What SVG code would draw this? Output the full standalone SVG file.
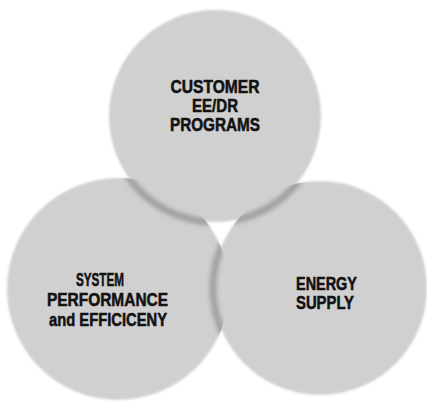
<svg xmlns="http://www.w3.org/2000/svg" width="427" height="402" viewBox="0 0 427 402">
  <style>
    .disc { fill: #d0d0d0; filter: url(#soft); }
    .rim { fill: none; stroke: #a0a0a0; stroke-width: 7; filter: url(#blur); }
    .label { font-family: "Liberation Sans", Arial, Helvetica, sans-serif; font-weight: bold; font-size: 18.5px; fill: #121212; stroke: #121212; stroke-width: 0.55; text-anchor: middle; }
  </style>
  <defs>
    <filter id="soft" x="-5%" y="-5%" width="110%" height="110%">
      <feGaussianBlur stdDeviation="1.2"/>
    </filter>
    <filter id="blur" x="-20%" y="-20%" width="140%" height="140%">
      <feGaussianBlur stdDeviation="2.2"/>
    </filter>
    <!-- area covered by the two lower discs -->
    <clipPath id="lowerDiscs">
      <circle cx="118" cy="289" r="111"/>
      <circle cx="320" cy="288" r="107"/>
    </clipPath>
    <clipPath id="leftDisc">
      <circle cx="118" cy="289" r="111"/>
    </clipPath>
  </defs>

  <!-- discs -->
  <g id="customer-programs">
    <circle class="disc" cx="215" cy="116" r="106"/>
  </g>
  <g id="system-performance">
    <circle class="disc" cx="118" cy="289" r="111"/>
  </g>
  <g id="energy-supply">
    <circle class="disc" cx="320" cy="288" r="107"/>
  </g>

  <!-- darker rims where the discs overlap -->
  <g id="overlaps">
    <circle class="rim" cx="215" cy="116" r="106" clip-path="url(#lowerDiscs)"/>
    <circle class="rim" cx="320" cy="288" r="107" clip-path="url(#leftDisc)"/>
  </g>

  <!-- labels -->
  <g id="labels">
    <text class="label" x="215" y="93" textLength="89" lengthAdjust="spacingAndGlyphs">CUSTOMER</text>
    <text class="label" x="215" y="112" textLength="46" lengthAdjust="spacingAndGlyphs">EE/DR</text>
    <text class="label" x="215" y="130.5" textLength="90" lengthAdjust="spacingAndGlyphs">PROGRAMS</text>

    <text class="label" x="100" y="286" textLength="48" lengthAdjust="spacingAndGlyphs">SYSTEM</text>
    <text class="label" x="107.5" y="306" textLength="121" lengthAdjust="spacingAndGlyphs">PERFORMANCE</text>
    <text class="label" x="108" y="326" textLength="118" lengthAdjust="spacingAndGlyphs">and EFFICICENY</text>

    <text class="label" x="326.5" y="290" textLength="61" lengthAdjust="spacingAndGlyphs">ENERGY</text>
    <text class="label" x="325" y="309" textLength="58" lengthAdjust="spacingAndGlyphs">SUPPLY</text>
  </g>
</svg>
